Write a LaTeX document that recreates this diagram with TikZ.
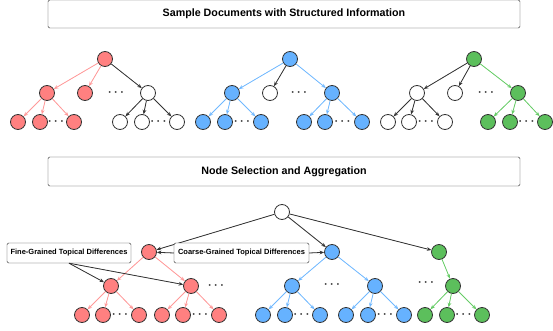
\documentclass[tikz,border=0pt]{standalone}
\usepackage{amsmath}
\usepackage{fontspec}
\setmainfont{Liberation Sans}
\usetikzlibrary{arrows.meta}

\definecolor{redfill}{HTML}{FF8080}
\definecolor{redline}{HTML}{FF9999}
\definecolor{bluefill}{HTML}{66B2FF}
\definecolor{blueline}{HTML}{70B8FF}
\definecolor{greenfill}{HTML}{5CBF5C}
\definecolor{greenline}{HTML}{66CC66}
\definecolor{darkline}{HTML}{333333}

\begin{document}
\begin{tikzpicture}[x=1pt, y=-1pt,
      vert/.style={circle, draw=darkline, line width=.8pt, minimum size=15pt, inner sep=0pt},
      rvert/.style={vert, fill=redfill},
      bvert/.style={vert, fill=bluefill},
      gvert/.style={vert, fill=greenfill},
      wvert/.style={vert, fill=white},
      dots/.style={inner sep=0pt, text=darkline, font=\fontsize{12.5}{12.5}\selectfont},
      header/.style={draw=darkline, rounded corners=1.5pt, minimum width=472pt,
                     font=\fontsize{10.7}{12}\selectfont\bfseries},
      tag/.style={draw=darkline, rounded corners=1.5pt, minimum height=20pt, inner xsep=2pt,
                  font=\fontsize{7.5}{9}\selectfont\bfseries, fill=white},
      arr/.style={-{Stealth[length=4.5pt, width=3.6pt]}, line width=.8pt},
      karr/.style={arr, draw=darkline, fill=darkline},
      rarr/.style={arr, draw=redline, fill=redline},
      barr/.style={arr, draw=blueline, fill=blueline},
      garr/.style={arr, draw=greenline, fill=greenline}]
    \useasboundingbox (0,0) rectangle (553,331);
    \newcommand{\ddd}{$\boldsymbol{\cdots}$}

    % headers
    \node[header, minimum height=28pt] (docs) at (284,14) {Sample Documents with Structured Information};
    \node[header, minimum height=29pt] (select) at (284,171.5) {Node Selection and Aggregation};

    % first document (red)
    \node[rvert] (t1) at (105,59) {};
    \node[rvert] (t1a) at (47,93) {};
    \node[rvert] (t1b) at (85,93) {};
    \node[dots] at (117,93) {\ddd};
    \node[wvert] (t1c) at (148,93) {};
    \node[rvert] (t1a1) at (18,122) {};
    \node[rvert] (t1a2) at (40,122) {};
    \node[dots] at (57,122) {\ddd};
    \node[rvert] (t1a3) at (74,122) {};
    \node[wvert] (t1c1) at (120,122) {};
    \node[wvert] (t1c2) at (142,122) {};
    \node[dots] at (159.5,122) {\ddd};
    \node[wvert] (t1c3) at (177,122) {};
    \draw[rarr] (t1) -- (t1a);
    \draw[rarr] (t1) -- (t1b);
    \draw[karr] (t1) -- (t1c);
    \draw[rarr] (t1a) -- (t1a1);
    \draw[rarr] (t1a) -- (t1a2);
    \draw[rarr] (t1a) -- (t1a3);
    \draw[karr] (t1c) -- (t1c1);
    \draw[karr] (t1c) -- (t1c2);
    \draw[karr] (t1c) -- (t1c3);

    % second document (blue)
    \node[bvert] (t2) at (290,59) {};
    \node[bvert] (t2a) at (232,93) {};
    \node[wvert] (t2b) at (270,93) {};
    \node[dots] at (300,93) {\ddd};
    \node[bvert] (t2c) at (332,93) {};
    \node[bvert] (t2a1) at (203,122) {};
    \node[bvert] (t2a2) at (225,122) {};
    \node[dots] at (243,122) {\ddd};
    \node[bvert] (t2a3) at (261,122) {};
    \node[bvert] (t2c1) at (304,122) {};
    \node[bvert] (t2c2) at (325,122) {};
    \node[dots] at (343.5,122) {\ddd};
    \node[bvert] (t2c3) at (362,122) {};
    \draw[barr] (t2) -- (t2a);
    \draw[karr] (t2) -- (t2b);
    \draw[barr] (t2) -- (t2c);
    \draw[barr] (t2a) -- (t2a1);
    \draw[barr] (t2a) -- (t2a2);
    \draw[barr] (t2a) -- (t2a3);
    \draw[barr] (t2c) -- (t2c1);
    \draw[barr] (t2c) -- (t2c2);
    \draw[barr] (t2c) -- (t2c3);

    % third document (green)
    \node[gvert] (t3) at (474,59) {};
    \node[wvert] (t3a) at (417,93) {};
    \node[wvert] (t3b) at (455,93) {};
    \node[dots] at (487,93) {\ddd};
    \node[gvert] (t3c) at (518,93) {};
    \node[wvert] (t3a1) at (388,122) {};
    \node[wvert] (t3a2) at (409,122) {};
    \node[dots] at (427,122) {\ddd};
    \node[wvert] (t3a3) at (445,122) {};
    \node[gvert] (t3c1) at (488,122) {};
    \node[gvert] (t3c2) at (510,122) {};
    \node[dots] at (527.5,122) {\ddd};
    \node[gvert] (t3c3) at (545,122) {};
    \draw[karr] (t3) -- (t3a);
    \draw[karr] (t3) -- (t3b);
    \draw[garr] (t3) -- (t3c);
    \draw[karr] (t3a) -- (t3a1);
    \draw[karr] (t3a) -- (t3a2);
    \draw[karr] (t3a) -- (t3a3);
    \draw[garr] (t3c) -- (t3c1);
    \draw[garr] (t3c) -- (t3c2);
    \draw[garr] (t3c) -- (t3c3);

    % aggregated tree
    \node[wvert] (agg) at (282,212) {};
    \node[rvert] (ar) at (149,252) {};
    \node[bvert] (ab) at (332,252) {};
    \node[gvert] (ag) at (439,252) {};
    \draw[karr] (agg) -- (ar);
    \draw[karr] (agg) -- (ab);
    \draw[karr] (agg) -- (ag);

    \node[rvert] (ar1) at (111,286) {};
    \node[rvert] (ar2) at (191,286) {};
    \node[dots] at (217,286) {\ddd};
    \node[rvert] (ar11) at (82,315) {};
    \node[rvert] (ar12) at (103,315) {};
    \node[dots] at (121,315) {\ddd};
    \node[rvert] (ar13) at (139,315) {};
    \node[rvert] (ar21) at (162,315) {};
    \node[rvert] (ar22) at (183,315) {};
    \node[dots] at (201,315) {\ddd};
    \node[rvert] (ar23) at (219,315) {};
    \draw[rarr] (ar) -- (ar1);
    \draw[rarr] (ar) -- (ar2);
    \draw[rarr] (ar1) -- (ar11);
    \draw[rarr] (ar1) -- (ar12);
    \draw[rarr] (ar1) -- (ar13);
    \draw[rarr] (ar2) -- (ar21);
    \draw[rarr] (ar2) -- (ar22);
    \draw[rarr] (ar2) -- (ar23);

    \node[bvert] (ab1) at (292,286) {};
    \node[dots] at (333,285) {\ddd};
    \node[bvert] (ab2) at (375,286) {};
    \node[bvert] (ab11) at (263,315) {};
    \node[bvert] (ab12) at (285,315) {};
    \node[dots] at (302.5,315) {\ddd};
    \node[bvert] (ab13) at (320,315) {};
    \node[bvert] (ab21) at (346,315) {};
    \node[bvert] (ab22) at (368,315) {};
    \node[dots] at (386,315) {\ddd};
    \node[bvert] (ab23) at (404,315) {};
    \draw[barr] (ab) -- (ab1);
    \draw[barr] (ab) -- (ab2);
    \draw[barr] (ab1) -- (ab11);
    \draw[barr] (ab1) -- (ab12);
    \draw[barr] (ab1) -- (ab13);
    \draw[barr] (ab2) -- (ab21);
    \draw[barr] (ab2) -- (ab22);
    \draw[barr] (ab2) -- (ab23);

    \node[dots] at (427,283) {\ddd};
    \node[gvert] (ag1) at (453,286) {};
    \node[gvert] (ag11) at (425,315) {};
    \node[gvert] (ag12) at (447,315) {};
    \node[dots] at (464.5,315) {\ddd};
    \node[gvert] (ag13) at (482,315) {};
    \draw[garr] (ag) -- (ag1);
    \draw[garr] (ag1) -- (ag11);
    \draw[garr] (ag1) -- (ag12);
    \draw[garr] (ag1) -- (ag13);

    % granularity labels
    \node[tag, minimum width=124pt] (fine) at (69,253) {Fine-Grained Topical Differences};
    \node[tag, minimum width=135pt] (coarse) at (241.5,253) {Coarse-Grained Topical Differences};
    \draw[karr] (fine.south) -- (ar1);
    \draw[karr] (fine.south) -- (ar2);
    \draw[karr] (coarse.west) -- (ar);
    \draw[karr] (coarse.east) -- (ab);
  \end{tikzpicture}
\end{document}
